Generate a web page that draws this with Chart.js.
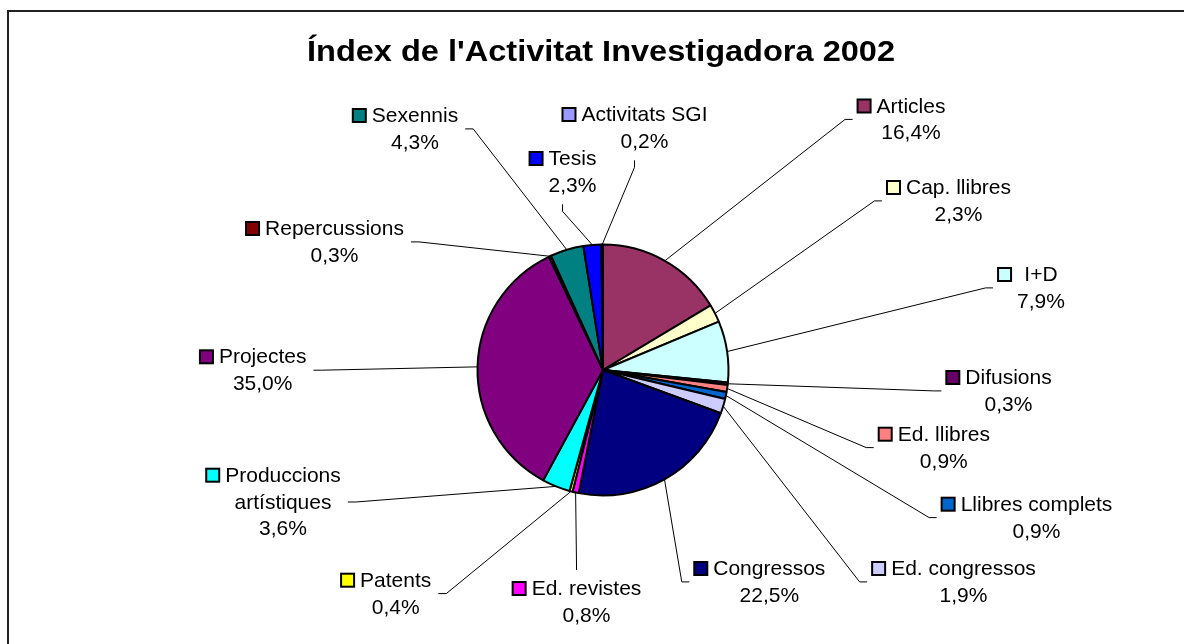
<!DOCTYPE html>
<html>
<head>
<meta charset="utf-8">
<script src="https://cdn.jsdelivr.net/npm/chart.js@4.4.1/dist/chart.umd.min.js"></script>
<style>
  html, body { margin: 0; padding: 0; background: #fff; }
  #wrap { width: 1184px; height: 644px; }
</style>
</head>
<body>
<div id="wrap"><canvas id="chart" width="1184" height="644"></canvas></div>
<script>
const title = "Índex de l'Activitat Investigadora 2002";

const categories = [
  "Articles", "Cap. llibres", "I+D", "Difusions", "Ed. llibres", "Llibres complets",
  "Ed. congressos", "Congressos", "Ed. revistes", "Patents", "Produccions artístiques",
  "Projectes", "Repercussions", "Sexennis", "Tesis", "Activitats SGI"
];
const shares = [16.4, 2.3, 7.9, 0.3, 0.9, 0.9, 1.9, 22.5, 0.8, 0.4, 3.6, 35.0, 0.3, 4.3, 2.3, 0.2];
const sliceColors = [
  "#993366", "#FFFFCC", "#CCFFFF", "#660066", "#FF8080", "#0066CC",
  "#CCCCFF", "#000080", "#FF00FF", "#FFFF00", "#00FFFF",
  "#800080", "#800000", "#008080", "#0000FF", "#9999FF"
];

// where each label sits: centre of its text column, first baseline, side the leader line joins
const labelSpots = [
  { cx: 911, y: 112.5, side: "left" },
  { cx: 958.5, y: 194, side: "left" },
  { cx: 1041, y: 281, side: "left" },
  { cx: 1008.5, y: 384, side: "left" },
  { cx: 943.8, y: 440.7, side: "left" },
  { cx: 1036.5, y: 510.7, side: "left" },
  { cx: 963.5, y: 575, side: "left" },
  { cx: 769.3, y: 575, side: "left" },
  { cx: 586.5, y: 595, side: "top" },
  { cx: 395.7, y: 586.7, side: "right" },
  { cx: 283, y: 481.7, side: "right", split: true },
  { cx: 262.7, y: 363.3, side: "right" },
  { cx: 334.5, y: 235, side: "right" },
  { cx: 415, y: 122, side: "right" },
  { cx: 572.5, y: 165, side: "bottom" },
  { cx: 644.5, y: 121, side: "bottom" }
];

const FONT = '21px "Liberation Sans", Arial, sans-serif';
const LINE = 26.8;

function pct(v) {
  return v.toFixed(1).replace(".", ",") + "%";
}

const frameAndLabels = {
  id: "frameAndLabels",
  beforeDraw(chart) {
    const ctx = chart.ctx;
    ctx.save();
    ctx.fillStyle = "#fff";
    ctx.fillRect(0, 0, chart.width, chart.height);
    ctx.strokeStyle = "#222";
    ctx.lineWidth = 2;
    ctx.beginPath();
    ctx.moveTo(8, chart.height);
    ctx.lineTo(8, 11);
    ctx.lineTo(chart.width, 11);
    ctx.stroke();
    ctx.restore();
  },
  afterDraw(chart) {
    const ctx = chart.ctx;

    // title, a little wider than plain Arial bold
    ctx.save();
    ctx.font = 'bold 29px "Liberation Sans", Arial, sans-serif';
    const tw = ctx.measureText(title).width;
    ctx.translate(601, 61);
    ctx.scale(588 / tw, 1);
    ctx.fillStyle = "#000";
    ctx.textAlign = "center";
    ctx.textBaseline = "alphabetic";
    ctx.fillText(title, 0, 0);
    ctx.restore();

    const arcs = chart.getDatasetMeta(0).data;
    ctx.save();
    ctx.font = FONT;
    ctx.textBaseline = "alphabetic";
    arcs.forEach((arc, i) => {
      const spot = labelSpots[i];
      const name = categories[i];
      const lines = (spot.split ? name.split(" ") : [name]).concat(pct(shares[i]));
      const w = Math.max(...lines.map((l) => ctx.measureText(l).width));
      const left = spot.cx - w / 2 - 20;
      const right = spot.cx + w / 2;
      const last = spot.y + (lines.length - 1) * LINE;
      const midY = spot.y + (lines.length - 1) * LINE / 2 - 6.5;
      const midX = (left + right) / 2;

      let a, b;
      if (spot.side === "left") {
        a = [left - 4, midY];
        b = [left - 11.5, midY];
      } else if (spot.side === "right") {
        a = [right + 7, midY];
        b = [right + 15, midY];
      } else if (spot.side === "bottom") {
        a = [midX, last + 12.5];
        b = [midX, last + 19.5];
      } else {
        a = [midX, spot.y - 25];
        b = [midX, spot.y - 31];
      }

      const p = arc.getProps(["x", "y", "startAngle", "endAngle", "outerRadius"], true);
      const mid = (p.startAngle + p.endAngle) / 2;
      const ex = p.x + Math.cos(mid) * p.outerRadius;
      const ey = p.y + Math.sin(mid) * p.outerRadius;

      ctx.strokeStyle = "#000";
      ctx.lineWidth = 1;
      ctx.beginPath();
      ctx.moveTo(ex, ey);
      ctx.lineTo(b[0], b[1]);
      ctx.lineTo(a[0], a[1]);
      ctx.stroke();

      ctx.fillStyle = "#000";
      ctx.fillRect(left, spot.y - 14, 15, 15);
      ctx.fillStyle = sliceColors[i];
      ctx.fillRect(left + 2, spot.y - 12, 11, 11);

      ctx.fillStyle = "#000";
      ctx.textAlign = "center";
      lines.forEach((l, k) => ctx.fillText(l, spot.cx, spot.y + k * LINE));
    });
    ctx.restore();
  }
};

new Chart(document.getElementById("chart"), {
  type: "pie",
  data: {
    labels: categories,
    datasets: [{
      data: shares,
      backgroundColor: sliceColors,
      borderColor: "#000",
      borderWidth: 2,
      hoverOffset: 0
    }]
  },
  options: {
    responsive: false,
    animation: false,
    devicePixelRatio: 1,
    radius: 125.5,
    layout: { padding: { left: 22, top: 96, right: 0, bottom: 0 } },
    plugins: {
      legend: { display: false },
      tooltip: { enabled: false },
      title: { display: false }
    }
  },
  plugins: [frameAndLabels]
});
</script>
</body>
</html>
